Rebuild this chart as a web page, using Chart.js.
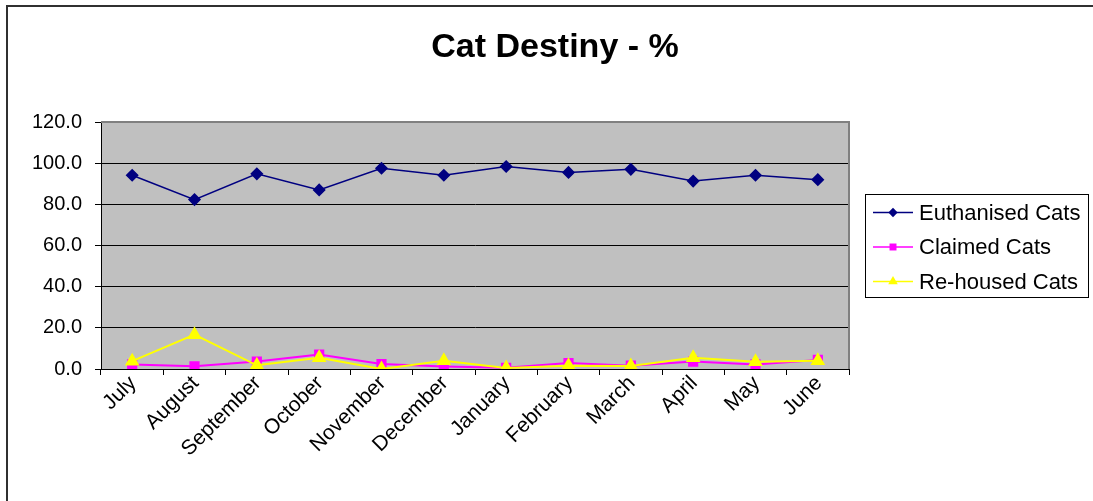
<!DOCTYPE html>
<html>
<head>
<meta charset="utf-8">
<title>Cat Destiny - %</title>
<script src="https://cdn.jsdelivr.net/npm/chart.js@4.4.0/dist/chart.umd.min.js"></script>
<style>
  html, body { margin: 0; padding: 0; background: #fff; overflow: hidden; }
  #wrap { position: relative; width: 1093px; height: 501px; }
</style>
</head>
<body>
<div id="wrap"><canvas id="catChart" width="1093" height="501"></canvas></div>
<script>
// Data
const months = ['July', 'August', 'September', 'October', 'November', 'December',
  'January', 'February', 'March', 'April', 'May', 'June'];
const euthanised = [94.1, 82.3, 94.8, 87.0, 97.5, 94.1, 98.4, 95.5, 97.0, 91.3, 94.1, 92.0];
const claimed = [2.2, 1.3, 3.6, 7.0, 2.4, 1.2, 0.6, 2.9, 1.6, 3.6, 2.2, 4.4];
const rehoused = [3.8, 16.7, 1.8, 5.5, 0.0, 4.0, 0.5, 1.6, 1.5, 5.5, 3.5, 4.0];
const yTicks = [0, 20, 40, 60, 80, 100, 120];

const FONT = '"Liberation Sans", Arial, sans-serif';

// Grey plot background and outer frame
const backdrop = {
  id: 'backdrop',
  beforeDraw(chart) {
    const { ctx, chartArea: a } = chart;
    ctx.save();
    ctx.fillStyle = '#ffffff';
    ctx.fillRect(0, 0, chart.width, chart.height);
    ctx.fillStyle = '#c0c0c0';
    ctx.fillRect(a.left, a.top, a.right - a.left, a.bottom - a.top);
    ctx.restore();
  },
  beforeDatasetsDraw(chart) {
    const { ctx, chartArea: a } = chart;
    ctx.save();
    ctx.strokeStyle = '#808080';
    ctx.lineWidth = 2;
    ctx.beginPath();
    ctx.moveTo(a.left, a.top);
    ctx.lineTo(a.right, a.top);
    ctx.lineTo(a.right, a.bottom);
    ctx.stroke();
    ctx.restore();
  },
  afterDraw(chart) {
    const ctx = chart.ctx;
    ctx.save();
    ctx.strokeStyle = '#303030';
    ctx.lineWidth = 2;
    ctx.strokeRect(7, 6, chart.width + 20, chart.height + 20);
    ctx.restore();
  }
};

// Title centred over the outer frame
const chartTitle = {
  id: 'chartTitle',
  afterDraw(chart) {
    const ctx = chart.ctx;
    ctx.save();
    ctx.font = 'bold 34px ' + FONT;
    ctx.fillStyle = '#000';
    ctx.textAlign = 'center';
    ctx.textBaseline = 'middle';
    ctx.fillText('Cat Destiny - %', 555, 48);
    ctx.restore();
  }
};

function drawMarker(ctx, style, x, y, r, color) {
  ctx.fillStyle = color;
  ctx.beginPath();
  if (style === 'rectRot') {
    ctx.moveTo(x, y - r); ctx.lineTo(x + r, y); ctx.lineTo(x, y + r); ctx.lineTo(x - r, y);
  } else if (style === 'rect') {
    const s = r * Math.SQRT1_2;
    ctx.rect(x - s, y - s, 2 * s, 2 * s);
  } else {
    ctx.moveTo(x, y - r);
    ctx.lineTo(x + r * 0.866, y + r / 2);
    ctx.lineTo(x - r * 0.866, y + r / 2);
  }
  ctx.closePath();
  ctx.fill();
}

// Excel style legend: line with marker in a framed box
const boxLegend = {
  id: 'boxLegend',
  afterDraw(chart) {
    const ctx = chart.ctx;
    const left = 865, top = 194, width = 223, height = 103;
    ctx.save();
    ctx.fillStyle = '#fff';
    ctx.fillRect(left, top, width, height);
    ctx.strokeStyle = '#000';
    ctx.lineWidth = 1;
    ctx.strokeRect(left + 0.5, top + 0.5, width, height);
    ctx.font = '22px ' + FONT;
    ctx.textBaseline = 'middle';
    chart.data.datasets.forEach((ds, i) => {
      const y = top + 18.5 + i * 34.5;
      ctx.strokeStyle = ds.borderColor;
      ctx.lineWidth = 1.5;
      ctx.beginPath();
      ctx.moveTo(873, y);
      ctx.lineTo(913, y);
      ctx.stroke();
      drawMarker(ctx, ds.pointStyle, 893, y, ds.pointRadius * 0.85, ds.pointBackgroundColor);
      ctx.fillStyle = '#000';
      ctx.fillText(ds.label, 919, y + 1);
    });
    ctx.restore();
  }
};

const ctx = document.getElementById('catChart').getContext('2d');
const catChart = new Chart(ctx, {
  type: 'line',
  data: {
    labels: months,
    datasets: [
      {
        label: 'Euthanised Cats',
        data: euthanised,
        borderColor: '#000080',
        backgroundColor: '#000080',
        pointBackgroundColor: '#000080',
        pointBorderColor: '#000080',
        pointStyle: 'rectRot',
        pointRadius: 5.5,
        borderWidth: 1.5,
        order: 2,
      },
      {
        label: 'Claimed Cats',
        data: claimed,
        borderColor: '#ff00ff',
        backgroundColor: '#ff00ff',
        pointBackgroundColor: '#ff00ff',
        pointBorderColor: '#ff00ff',
        pointStyle: 'rect',
        pointRadius: 5.8,
        borderWidth: 2,
        order: 1,
      },
      {
        label: 'Re-housed Cats',
        data: rehoused,
        borderColor: '#ffff00',
        backgroundColor: '#ffff00',
        pointBackgroundColor: '#ffff00',
        pointBorderColor: '#ffff00',
        pointStyle: 'triangle',
        pointRadius: 6.5,
        borderWidth: 2,
        order: 0,
      },
    ],
  },
  options: {
    responsive: false,
    animation: false,
    layout: { padding: { top: 122, right: 244, left: 0, bottom: 0 } },
    plugins: {
      legend: { display: false },
      title: { display: false },
      tooltip: { enabled: false },
    },
    elements: { line: { tension: 0 }, point: { borderWidth: 0 } },
    scales: {
      x: {
        offset: true,
        grid: {
          offset: true,
          drawOnChartArea: false,
          tickLength: 6,
          tickColor: '#000',
          color: '#000',
        },
        border: { color: '#000', width: 1 },
        ticks: {
          autoSkip: false,
          maxRotation: 45,
          minRotation: 45,
          padding: -4,
          labelOffset: 1,
          color: '#000',
          font: { family: FONT, size: 21 },
        },
        afterFit(scale) { scale.height = 132; },
      },
      y: {
        min: 0,
        max: 120,
        afterBuildTicks(scale) { scale.ticks = yTicks.map(v => ({ value: v })); },
        grid: {
          color: c => (c.tick && c.tick.value === 120 ? '#808080' : '#000'),
          tickColor: '#000',
          tickLength: 6,
          lineWidth: 1,
        },
        border: { color: '#000', width: 1 },
        ticks: {
          padding: 13,
          color: '#000',
          font: { family: FONT, size: 20 },
          callback: v => v.toFixed(1),
        },
        afterFit(scale) { scale.width = 101; },
      },
    },
  },
  plugins: [backdrop, chartTitle, boxLegend],
});
</script>
</body>
</html>
